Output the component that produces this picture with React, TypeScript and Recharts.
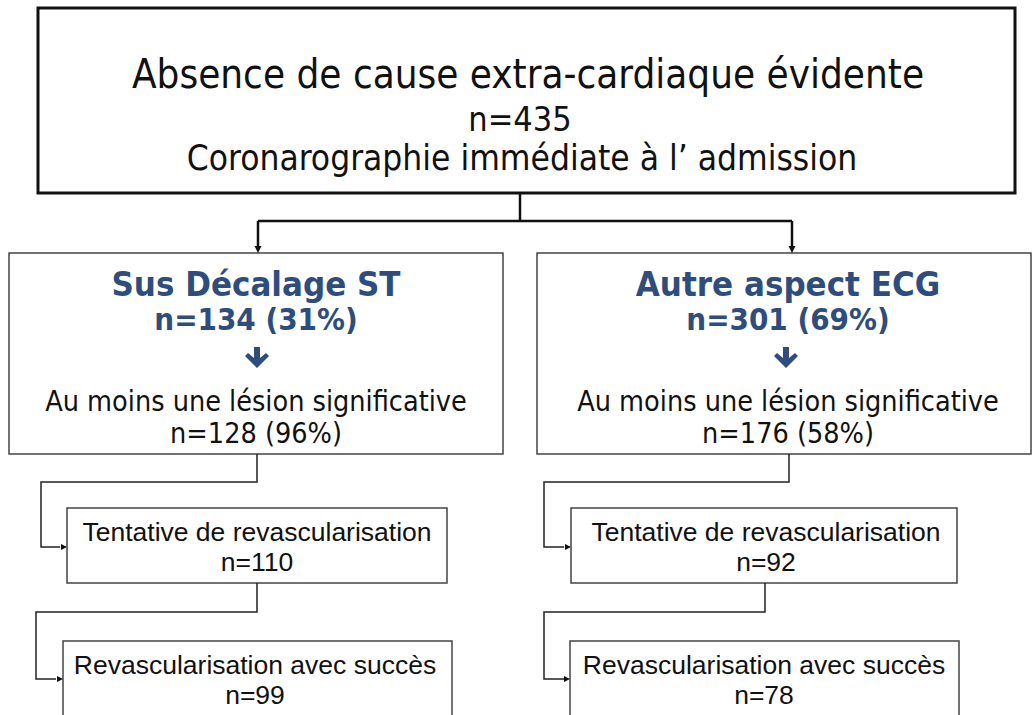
import React from 'react'
import { ScatterChart, Scatter, XAxis, YAxis, ReferenceArea } from 'recharts'

// flowchart content
const mainTitle = 'Absence de cause extra-cardiaque évidente'
const mainCount = 435
const mainSub = 'Coronarographie immédiate à l\u2019 admission'
const groupNames = ['Sus Décalage ST', 'Autre aspect ECG']
const groupCounts = [134, 301]
const groupPcts = [31, 69]
const lesionLabel = 'Au moins une lésion significative'
const lesionCounts = [128, 176]
const lesionPcts = [96, 58]
const attemptLabel = 'Tentative de revascularisation'
const attemptCounts = [110, 92]
const successLabel = 'Revascularisation avec succès'
const successCounts = [99, 78]

// layout (data units = pixels of a 1033x715 canvas)
const W = 1033, H = 715
const BLUE = '#2E4D7C'
const NARROW = '"DejaVu Sans", Verdana, sans-serif'
const ARIAL = '"Liberation Sans", Arial, sans-serif'

const boxes = [
  { x1: 38, x2: 1015, y1: 8, y2: 193, sw: 3, stroke: '#111' },
  { x1: 9, x2: 503, y1: 253, y2: 454, sw: 1.5, stroke: '#444' },
  { x1: 537, x2: 1031, y1: 253, y2: 454, sw: 1.5, stroke: '#444' },
  { x1: 67, x2: 447, y1: 508, y2: 583, sw: 1.5, stroke: '#444' },
  { x1: 571, x2: 957, y1: 508, y2: 583, sw: 1.5, stroke: '#444' },
  { x1: 63, x2: 452, y1: 641, y2: 730, sw: 1.5, stroke: '#444' },
  { x1: 570, x2: 959, y1: 641, y2: 730, sw: 1.5, stroke: '#444' },
]

const colX = [256, 788]
const lowX = [[257, 255], [766, 764]]

type Label = { x: number; y: number; text: string; size: number; weight?: string; color?: string; font: string; stretch?: string }

const labels: Label[] = [
  { x: 528, y: 88, text: mainTitle, size: 40, font: NARROW, stretch: 'condensed' },
  { x: 520, y: 131, text: `n=${mainCount}`, size: 34, font: NARROW, stretch: 'condensed' },
  { x: 522, y: 170, text: mainSub, size: 35, font: NARROW, stretch: 'condensed' },
]
groupNames.forEach((g, i) => {
  labels.push({ x: colX[i], y: 296, text: g, size: 34.5, weight: 'bold', color: BLUE, font: NARROW, stretch: 'condensed' })
  labels.push({ x: colX[i], y: 330, text: `n=${groupCounts[i]} (${groupPcts[i]}%)`, size: 31, weight: 'bold', color: BLUE, font: NARROW, stretch: 'condensed' })
  labels.push({ x: colX[i], y: 411, text: lesionLabel, size: 28.5, font: NARROW, stretch: 'condensed' })
  labels.push({ x: colX[i], y: 443, text: `n=${lesionCounts[i]} (${lesionPcts[i]}%)`, size: 28.5, font: NARROW, stretch: 'condensed' })
  labels.push({ x: lowX[i][0], y: 541, text: attemptLabel, size: 26.5, font: ARIAL })
  labels.push({ x: lowX[i][0], y: 571, text: `n=${attemptCounts[i]}`, size: 26.5, font: ARIAL })
  labels.push({ x: lowX[i][1], y: 674, text: successLabel, size: 26.5, font: ARIAL })
  labels.push({ x: lowX[i][1], y: 704, text: `n=${successCounts[i]}`, size: 26.5, font: ARIAL })
})

const topLinks = [
  [{ x: 520, y: 193 }, { x: 520, y: 221 }],
  [{ x: 258, y: 221 }, { x: 792, y: 221 }],
  [{ x: 258, y: 221 }, { x: 258, y: 246 }],
  [{ x: 792, y: 221 }, { x: 792, y: 246 }],
]
const sideLinks = [
  [{ x: 257, y: 454 }, { x: 257, y: 482 }, { x: 41, y: 482 }, { x: 41, y: 547 }, { x: 60, y: 547 }],
  [{ x: 257, y: 583 }, { x: 257, y: 612 }, { x: 36, y: 612 }, { x: 36, y: 679 }, { x: 56, y: 679 }],
  [{ x: 789, y: 454 }, { x: 789, y: 482 }, { x: 544, y: 482 }, { x: 544, y: 547 }, { x: 564, y: 547 }],
  [{ x: 765, y: 583 }, { x: 765, y: 612 }, { x: 544, y: 612 }, { x: 544, y: 679 }, { x: 564, y: 679 }],
]
const arrowHeads = [
  { x: 258, y: 253, dir: 'down', s: 7 },
  { x: 792, y: 253, dir: 'down', s: 7 },
  { x: 67, y: 547, dir: 'right', s: 6 },
  { x: 63, y: 679, dir: 'right', s: 6 },
  { x: 571, y: 547, dir: 'right', s: 6 },
  { x: 570, y: 679, dir: 'right', s: 6 },
]
const blueArrows = [{ x: 257, y: 358 }, { x: 786, y: 358 }]

const Empty = () => <g />

const TextShape = (p: any) => {
  const d: Label = p.payload
  return (
    <text x={p.cx} y={p.cy} textAnchor="middle" fontFamily={d.font} fontSize={d.size}
      fontWeight={d.weight ?? 'normal'} fill={d.color ?? '#111'} style={{ fontStretch: d.stretch ?? 'normal' }}>
      {d.text}
    </text>
  )
}

const HeadShape = (p: any) => {
  const { cx, cy } = p
  const { dir, s } = p.payload
  const path = dir === 'down'
    ? `M${cx - s / 2},${cy - s} L${cx + s / 2},${cy - s} L${cx},${cy} Z`
    : `M${cx - s},${cy - s / 2} L${cx - s},${cy + s / 2} L${cx},${cy} Z`
  return <path d={path} fill="#111" />
}

const BlueArrow = (p: any) => {
  const { cx, cy } = p
  const path = `M${cx - 3},${cy - 11} L${cx + 3},${cy - 11} L${cx + 3},${cy} L${cx + 9},${cy - 5} L${cx + 12},${cy - 2} L${cx},${cy + 10} L${cx - 12},${cy - 2} L${cx - 9},${cy - 5} L${cx - 3},${cy} Z`
  return <path d={path} fill={BLUE} />
}

export default function App() {
  return (
    <div style={{ position: 'absolute', left: 0, top: 0, width: W, height: H, background: '#fff' }}>
      <ScatterChart width={W} height={H} margin={{ top: 0, right: 0, bottom: 0, left: 0 }}>
        <XAxis type="number" dataKey="x" domain={[0, W]} hide />
        <YAxis type="number" dataKey="y" domain={[0, H]} reversed hide />
        {boxes.map((b, i) => (
          <ReferenceArea key={i} x1={b.x1} x2={b.x2} y1={b.y1} y2={b.y2} ifOverflow="visible"
            fill="#fff" fillOpacity={1} stroke={b.stroke} strokeWidth={b.sw} />
        ))}
        {topLinks.map((l, i) => (
          <Scatter key={'t' + i} data={l} shape={<Empty />} line={{ stroke: '#111', strokeWidth: 2.5 }} lineType="joint" isAnimationActive={false} />
        ))}
        {sideLinks.map((l, i) => (
          <Scatter key={'s' + i} data={l} shape={<Empty />} line={{ stroke: '#222', strokeWidth: 1.5 }} lineType="joint" isAnimationActive={false} />
        ))}
        <Scatter data={arrowHeads} shape={<HeadShape />} isAnimationActive={false} />
        <Scatter data={blueArrows} shape={<BlueArrow />} isAnimationActive={false} />
        <Scatter data={labels} shape={<TextShape />} isAnimationActive={false} />
      </ScatterChart>
    </div>
  )
}
